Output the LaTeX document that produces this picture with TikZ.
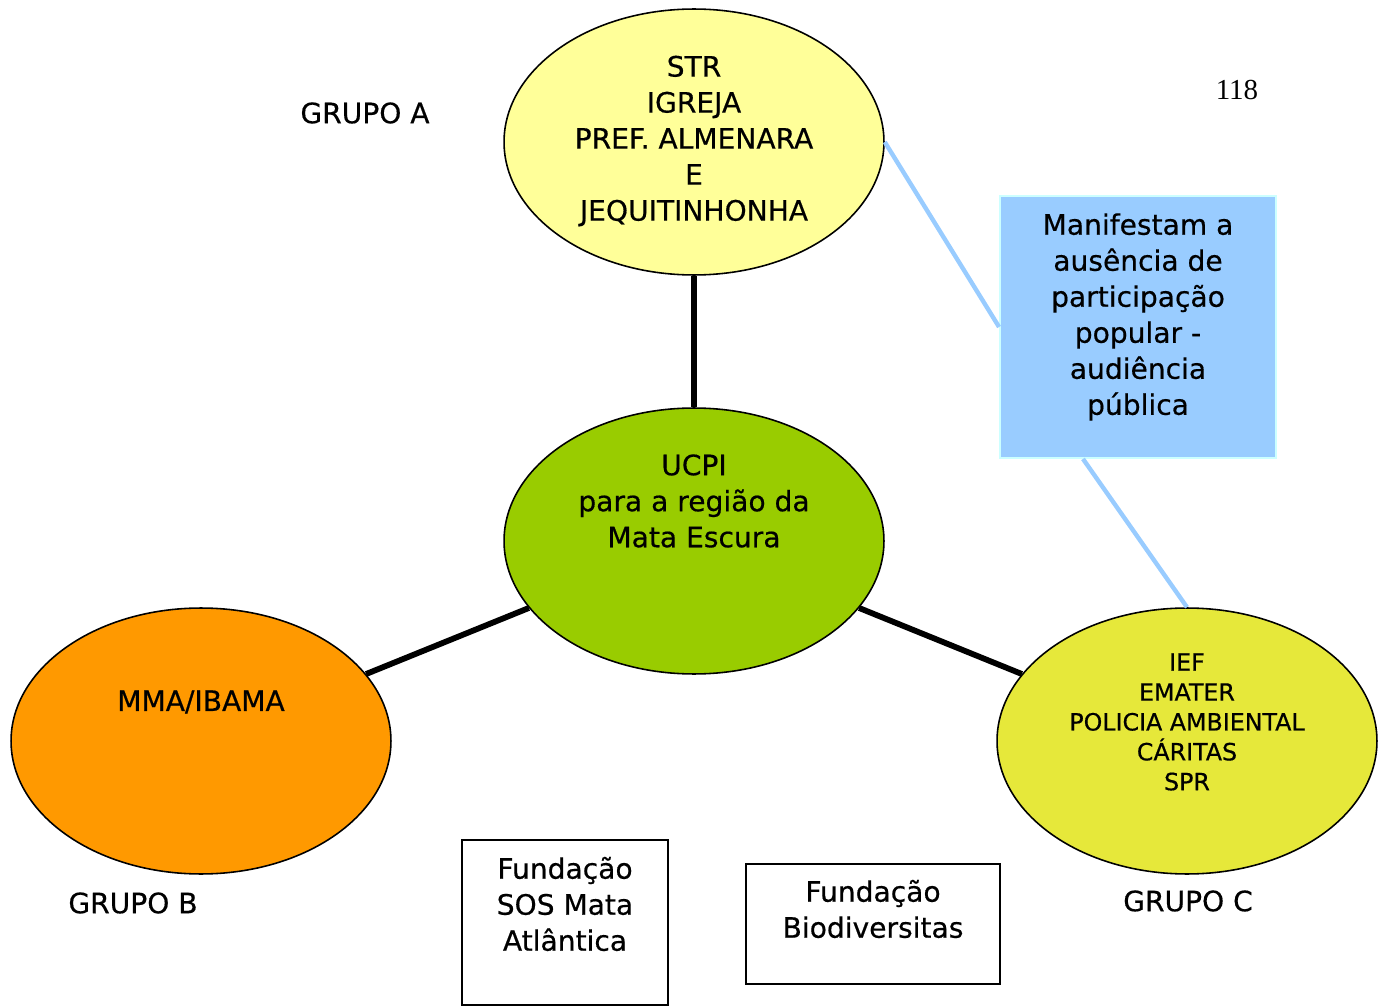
\documentclass[tikz,border=0pt]{standalone}
\usepackage{fontspec}
\setmainfont{DejaVu Sans}
\newfontfamily\boxfont[FakeBold=0.5]{DejaVu Sans}
\newfontfamily\pagefont{Liberation Serif}
\usetikzlibrary{shapes.geometric,calc}

\definecolor{strfill}{HTML}{FFFF99}
\definecolor{ucpifill}{HTML}{99CC00}
\definecolor{ibamafill}{HTML}{FF9900}
\definecolor{ieffill}{HTML}{E6E83A}
\definecolor{notefill}{HTML}{99CCFF}
\definecolor{noteedge}{HTML}{CCFFFF}

\begin{document}
\begin{tikzpicture}[
    x=0.02cm, y=-0.02cm,
    grupo/.style={draw=black,line width=0.9pt,ellipse,
        minimum width=7.6cm,minimum height=5.32cm,inner sep=0pt},
    txt/.style={align=center,inner sep=0pt,font=\boxfont\fontsize{16}{20.5}\selectfont},
    smalltxt/.style={align=center,inner sep=0pt,font=\boxfont\fontsize{13.5}{17}\selectfont},
    fundbox/.style={draw=black,line width=1pt,inner sep=0pt},
    tie/.style={line width=3.3pt},
    remark/.style={draw=notefill,line width=2.5pt}
]

% page frame
\useasboundingbox (0,0) rectangle (1384,1007);

% ===== Ellipses =====
\node[grupo,fill=strfill]   (gA)   at (694,142) {};
\node[grupo,fill=ucpifill]  (ucpi) at (694,541) {};
\node[grupo,fill=ibamafill] (gB)   at (201,741) {};
\node[grupo,fill=ieffill]   (gC)   at (1187,741) {};

% ellipse texts
\node[txt] (gAtxt) at (694,141)
    {STR\\IGREJA\\PREF. ALMENARA\\E\\JEQUITINHONHA};
\node[txt] (ucpitxt) at (694,501)
    {UCPI\\para a região da\\Mata Escura};
\node[txt] (gBtxt) at (201,702) {MMA/IBAMA};
\node[smalltxt] (gCtxt) at (1187,722)
    {IEF\\EMATER\\POLICIA AMBIENTAL\\CÁRITAS\\SPR};

% ===== Group labels =====
\node[txt] (labA) at (365,113) {GRUPO A};
\node[txt] (labB) at (133,903) {GRUPO B};
\node[txt] (labC) at (1188,901) {GRUPO C};

% page number
\node[font=\pagefont\fontsize{16.5}{18}\selectfont] (pagenum) at (1237,90) {118};

% ===== Note box =====
\node[draw=noteedge,line width=1.1pt,fill=notefill,
    minimum width=5.52cm,minimum height=5.24cm,inner sep=0pt] (manif) at (1138,327) {};
\node[txt] (maniftxt) at (1138,317)
    {Manifestam a\\ausência de\\participação\\popular -\\audiência\\pública};

% ===== Foundations =====
\node[fundbox,minimum width=4.12cm,minimum height=3.3cm] (sos) at (565,922.5) {};
\node[txt] (sostxt) at (565,904) {Fundação\\SOS Mata\\Atlântica};

\node[fundbox,minimum width=5.08cm,minimum height=2.4cm] (biod) at (873,924) {};
\node[txt] (biodtxt) at (873,909) {Fundação\\Biodiversitas};

% ===== Connectors =====
\draw[tie] (gA) -- (ucpi);
\draw[tie] (ucpi) -- (gB);
\draw[tie] (ucpi) -- (gC);

\draw[remark] (gA.east) -- (manif.west);
\draw[remark] ($(manif.south)+(-55,0)$) -- (gC.north);

\end{tikzpicture}
\end{document}
